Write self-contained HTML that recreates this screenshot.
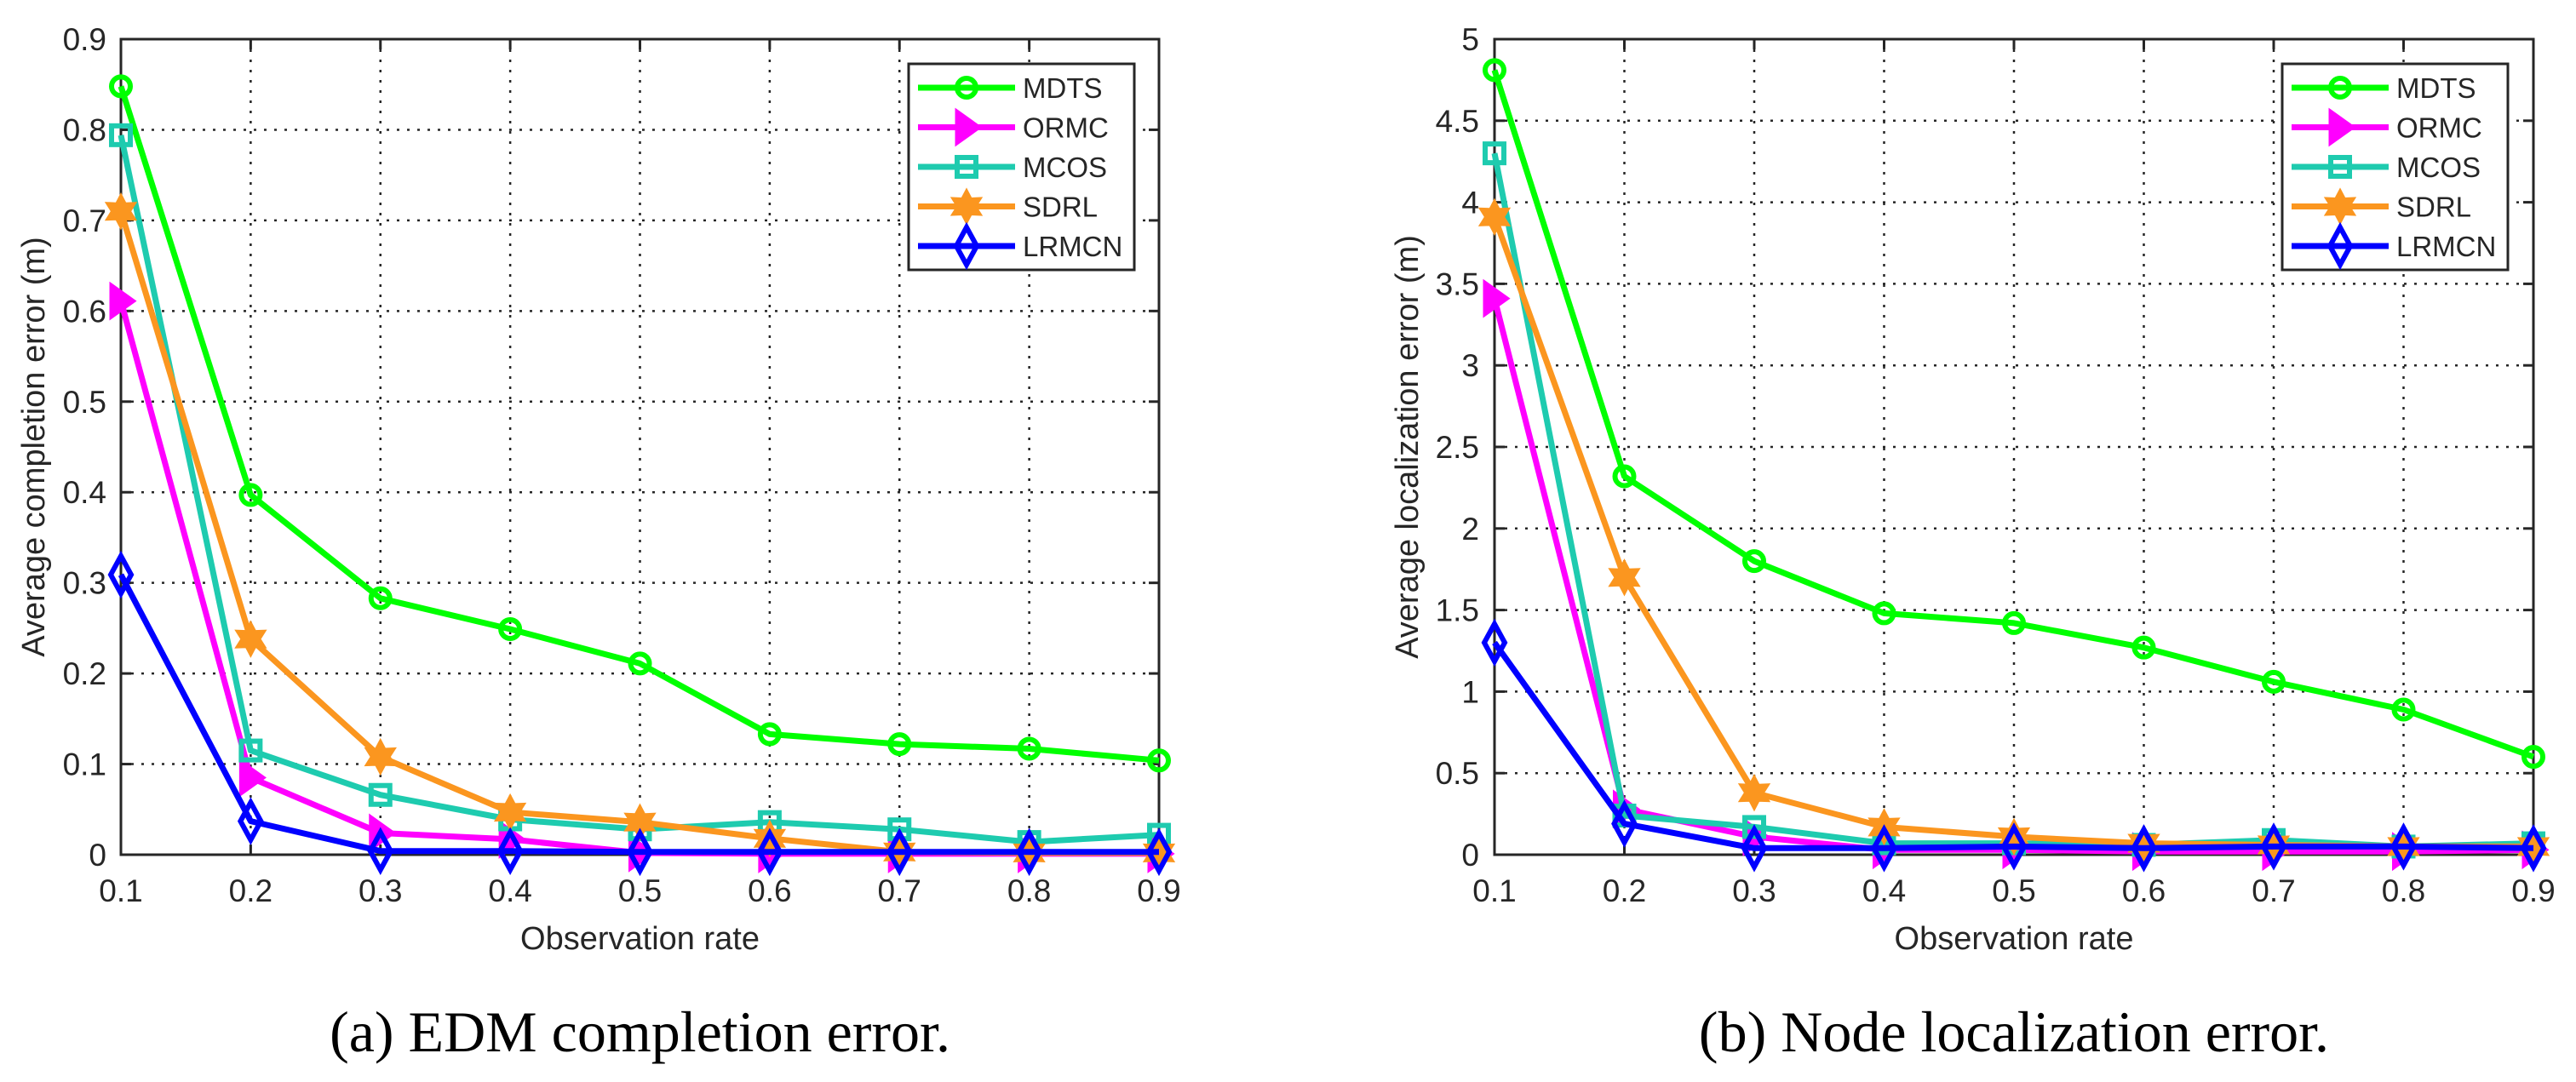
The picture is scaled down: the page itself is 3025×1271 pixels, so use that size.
<!DOCTYPE html>
<html><head><meta charset="utf-8">
<style>
html,body{margin:0;padding:0;background:#fff;}
svg{display:block;}
text{font-family:"Liberation Sans",sans-serif;fill:#262626;}
</style></head>
<body>
<svg id="fig" width="3025" height="1271" viewBox="0 0 3025 1271" xmlns="http://www.w3.org/2000/svg"></svg>
<script>
const categories = [0.1,0.2,0.3,0.4,0.5,0.6,0.7,0.8,0.9];
const seriesNames = ["MDTS","ORMC","MCOS","SDRL","LRMCN"];
const edmMDTS  = [0.848,0.397,0.283,0.249,0.211,0.133,0.122,0.117,0.104];
const edmORMC  = [0.611,0.085,0.024,0.017,0.002,0.001,0.001,0.001,0.001];
const edmMCOS  = [0.794,0.115,0.066,0.039,0.028,0.036,0.028,0.014,0.022];
const edmSDRL  = [0.710,0.238,0.108,0.047,0.036,0.018,0.003,0.002,0.002];
const edmLRMCN = [0.309,0.037,0.004,0.004,0.003,0.003,0.003,0.003,0.003];
const locMDTS  = [4.81,2.32,1.80,1.48,1.42,1.27,1.06,0.89,0.60];
const locORMC  = [3.41,0.28,0.11,0.03,0.03,0.02,0.02,0.02,0.03];
const locMCOS  = [4.30,0.24,0.17,0.07,0.07,0.06,0.09,0.05,0.07];
const locSDRL  = [3.91,1.70,0.38,0.17,0.11,0.07,0.06,0.05,0.05];
const locLRMCN = [1.30,0.19,0.04,0.04,0.05,0.04,0.05,0.05,0.04];
const xTickLabels = ["0.1","0.2","0.3","0.4","0.5","0.6","0.7","0.8","0.9"];
const edmYTicks = ["0","0.1","0.2","0.3","0.4","0.5","0.6","0.7","0.8","0.9"];
const locYTicks = ["0","0.5","1","1.5","2","2.5","3","3.5","4","4.5","5"];

const NS="http://www.w3.org/2000/svg";
const svg=document.getElementById('fig');
const colors=["#00ff00","#ff00ff","#1ecbaf","#fb961f","#0000ff"];
const markers=["circle","triangle","square","star","diamond"];

function mk(tag,attrs,parent){const e=document.createElementNS(NS,tag);for(const k in attrs)e.setAttribute(k,attrs[k]);(parent||svg).appendChild(e);return e;}

function marker(g,type,x,y,c){
  let e;
  if(type==="circle"){e=mk('circle',{cx:x,cy:y,r:11,fill:'none',stroke:c,'stroke-width':6},g);}
  else if(type==="triangle"){e=mk('polygon',{points:`${x-12},${y-20} ${x+16},${y} ${x-12},${y+20}`,fill:c,stroke:c,'stroke-width':3},g);}
  else if(type==="square"){e=mk('rect',{x:x-11,y:y-11,width:22,height:22,fill:'none',stroke:c,'stroke-width':6},g);}
  else if(type==="star"){
    const p=[];for(let i=0;i<12;i++){const r=i%2?11:20;const a=-Math.PI/2+i*Math.PI/6;p.push((x+r*Math.cos(a)).toFixed(1)+','+(y+r*Math.sin(a)).toFixed(1));}
    e=mk('polygon',{points:p.join(' '),fill:c,stroke:c,'stroke-width':2},g);}
  else {e=mk('polygon',{points:`${x},${y-22} ${x+12},${y} ${x},${y+22} ${x-12},${y}`,fill:'none',stroke:c,'stroke-width':6},g);}
  
  
}

function chart(cfg){
  const {x0,x1,y0,y1,ymax,yTicks,series,ylabel,caption,legRight,tickRight,ylabX,name}=cfg;
  const g=mk('g',{});
  
  
  const X=v=>x0+(v-0.1)/0.8*(x1-x0);
  const Y=v=>y1-v/ymax*(y1-y0);
  // grid
  const grid=mk('g',{},g);
  
  
  categories.forEach(v=>{mk('line',{x1:X(v),x2:X(v),y1:y0,y2:y1,stroke:'#262626','stroke-width':2.5,'stroke-dasharray':'3,9'},grid);});
  yTicks.forEach(t=>{const v=parseFloat(t);mk('line',{x1:x0,x2:x1,y1:Y(v),y2:Y(v),stroke:'#262626','stroke-width':2.5,'stroke-dasharray':'3,9'},grid);});
  // ticks and labels
  categories.forEach((v,i)=>{
    mk('line',{x1:X(v),x2:X(v),y1:y1,y2:y1-12,stroke:'#262626','stroke-width':3},g);
    mk('line',{x1:X(v),x2:X(v),y1:y0,y2:y0+12,stroke:'#262626','stroke-width':3},g);
    const t=mk('text',{x:X(v),y:1059,'font-size':37,'text-anchor':'middle'},g);t.textContent=xTickLabels[i];
    
    
  });
  yTicks.forEach(tk=>{const v=parseFloat(tk);
    mk('line',{x1:x0,x2:x0+12,y1:Y(v),y2:Y(v),stroke:'#262626','stroke-width':3},g);
    mk('line',{x1:x1,x2:x1-12,y1:Y(v),y2:Y(v),stroke:'#262626','stroke-width':3},g);
    const t=mk('text',{x:tickRight,y:Y(v)+13,'font-size':37,'text-anchor':'end'},g);t.textContent=tk;
    
    
  });
  const box=mk('rect',{x:x0,y:y0,width:x1-x0,height:y1-y0,fill:'none',stroke:'#262626','stroke-width':3},g);
  
  
  // series
  series.forEach((vals,si)=>{
    const sg=mk('g',{},g);
    
    
    const pts=vals.map((v,i)=>X(categories[i]).toFixed(1)+','+Y(v).toFixed(1)).join(' ');
    const pl=mk('polyline',{points:pts,fill:'none',stroke:colors[si],'stroke-width':7,'stroke-linejoin':'round'},sg);
    
    
    vals.forEach((v,i)=>marker(sg,markers[si],X(categories[i]),Y(v),colors[si]));
  });
  // legend
  const lg=mk('g',{},g);
  
  
  const lx=legRight-265;
  mk('rect',{x:lx,y:75,width:265,height:242,fill:'#fff',stroke:'#262626','stroke-width':3},lg);
  seriesNames.forEach((n,i)=>{
    const ly=103+i*46.5;
    const eg=mk('g',{},lg);
    
    
    mk('line',{x1:lx+11,x2:lx+125,y1:ly,y2:ly,stroke:colors[i],'stroke-width':7},eg);
    marker(eg,markers[i],lx+68,ly,colors[i]);
    const t=mk('text',{x:lx+134,y:ly+12,'font-size':33,fill:'#000'},eg);t.textContent=n;
  });
  // axis titles
  const xt=mk('text',{x:(x0+x1)/2,y:1115,'font-size':38,'text-anchor':'middle'},g);
  xt.textContent='Observation rate';
  
  
  const yt=mk('text',{x:0,y:0,'font-size':38,'text-anchor':'middle',transform:`translate(${ylabX},${(y0+y1)/2}) rotate(-90)`},g);
  yt.textContent=ylabel;
  
  
  const cp=mk('text',{x:(x0+x1)/2,y:1235,'font-size':68,'text-anchor':'middle',style:'font-family:"Liberation Serif",serif;fill:#000'},g);
  cp.textContent=caption;
  
  
}

chart({name:'edm-chart',x0:142,x1:1361,y0:46,y1:1004,ymax:0.9,yTicks:edmYTicks,
  series:[edmMDTS,edmORMC,edmMCOS,edmSDRL,edmLRMCN],ylabel:'Average completion error (m)',
  caption:'(a)  EDM completion error.',legRight:1332,tickRight:125,ylabX:52});
chart({name:'localization-chart',x0:1755,x1:2975,y0:46,y1:1004,ymax:5,yTicks:locYTicks,
  series:[locMDTS,locORMC,locMCOS,locSDRL,locLRMCN],ylabel:'Average localization error (m)',
  caption:'(b)  Node localization error.',legRight:2945,tickRight:1737,ylabX:1665});
</script>
</body></html>
